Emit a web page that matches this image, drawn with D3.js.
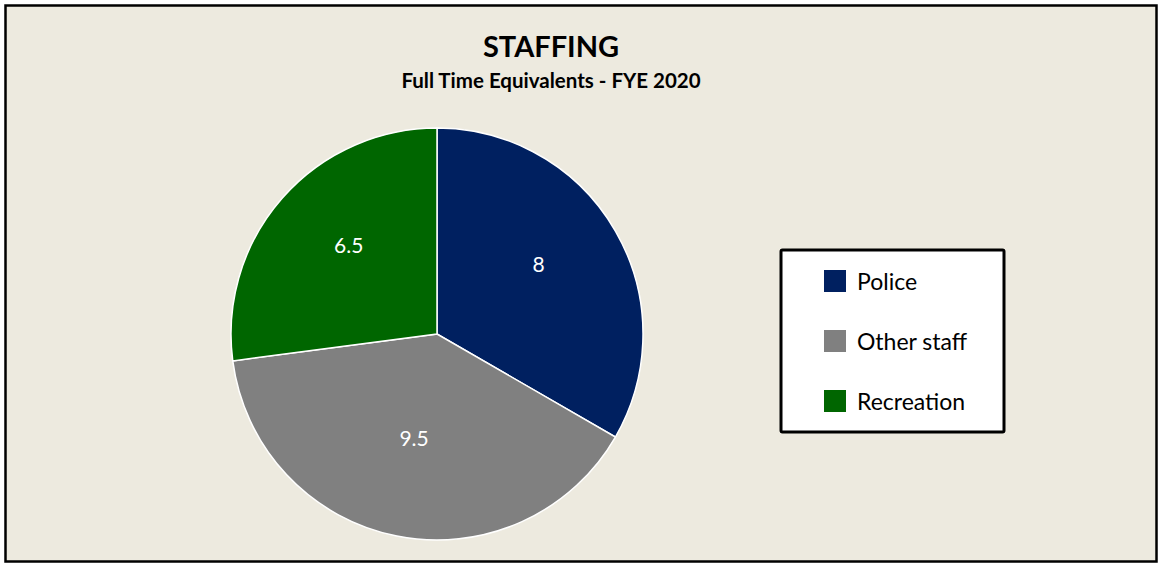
<!DOCTYPE html>
<html>
<head>
<meta charset="utf-8">
<script src="https://cdn.jsdelivr.net/npm/d3@7"></script>
<style>
  html, body { margin: 0; padding: 0; background: #ffffff; }
  svg { display: block; }
  text { font-family: Lato, "Noto Sans", sans-serif; }
</style>
</head>
<body>
<svg id="chart" width="1159" height="564"></svg>
<script>
const categories = ["Police", "Other staff", "Recreation"];
const values = [8, 9.5, 6.5];
const valueLabels = ["8", "9.5", "6.5"];
const colors = ["#002060", "#808080", "#006600"];
const title = "STAFFING";
const subtitle = "Full Time Equivalents - FYE 2020";

const svg = d3.select("#chart");
const W = 1159, H = 564;

// frame
svg.append("rect")
  .attr("x", 5.5).attr("y", 5.5)
  .attr("width", W - 8).attr("height", H - 8)
  .attr("fill", "#EDEADF")
  .attr("stroke", "#000").attr("stroke-width", 2.5);

// titles
svg.append("text")
  .attr("x", 551).attr("y", 57)
  .attr("text-anchor", "middle")
  .attr("font-weight", "bold")
  .attr("font-size", 29)
  .attr("fill", "#000")
  .text(title);
svg.append("text")
  .attr("x", 551).attr("y", 87.5)
  .attr("text-anchor", "middle")
  .attr("font-weight", "bold")
  .attr("font-size", 20.5)
  .attr("fill", "#000")
  .text(subtitle);

// pie
const cx = 437, cy = 334, r = 206;
const data = categories.map((c, i) => ({ cat: c, value: values[i], label: valueLabels[i], color: colors[i] }));
const pie = d3.pie().value(d => d.value).sort(null);
const arcs = pie(data);
const arc = d3.arc().innerRadius(0).outerRadius(r);
const labelArc = d3.arc().innerRadius(r * 0.57).outerRadius(r * 0.57);

const g = svg.append("g").attr("transform", `translate(${cx},${cy})`);
g.selectAll("path.slice")
  .data(arcs)
  .join("path")
  .attr("class", "slice")
  .attr("d", arc)
  .attr("fill", d => d.data.color)
  .attr("stroke", "#ffffff")
  .attr("stroke-width", 1.5);

g.selectAll("text.vlabel")
  .data(arcs)
  .join("text")
  .attr("class", "vlabel")
  .attr("transform", d => { const c = labelArc.centroid(d); return `translate(${c[0]},${c[1] - 11})`; })
  .attr("text-anchor", "middle")
  .attr("dy", "0.35em")
  .attr("font-size", 21)
  .attr("fill", "#ffffff")
  .text(d => d.data.label);

// legend
const lx = 781, ly = 250, lw = 223, lh = 182;
svg.append("rect")
  .attr("x", lx).attr("y", ly)
  .attr("width", lw).attr("height", lh)
  .attr("fill", "#ffffff")
  .attr("stroke", "#000").attr("stroke-width", 3)
  .attr("rx", 1.5);

const legendY = d3.scalePoint().domain(categories).range([281, 401]);
const lg = svg.append("g");
const items = lg.selectAll("g.item")
  .data(data)
  .join("g")
  .attr("class", "item")
  .attr("transform", d => `translate(0,${legendY(d.cat)})`);
items.append("rect")
  .attr("x", 824).attr("y", -11)
  .attr("width", 22).attr("height", 22)
  .attr("fill", d => d.color);
items.append("text")
  .attr("x", 857).attr("y", 1)
  .attr("dy", "0.35em")
  .attr("font-size", 23)
  .attr("fill", "#000")
  .text(d => d.cat);
</script>
</body>
</html>
